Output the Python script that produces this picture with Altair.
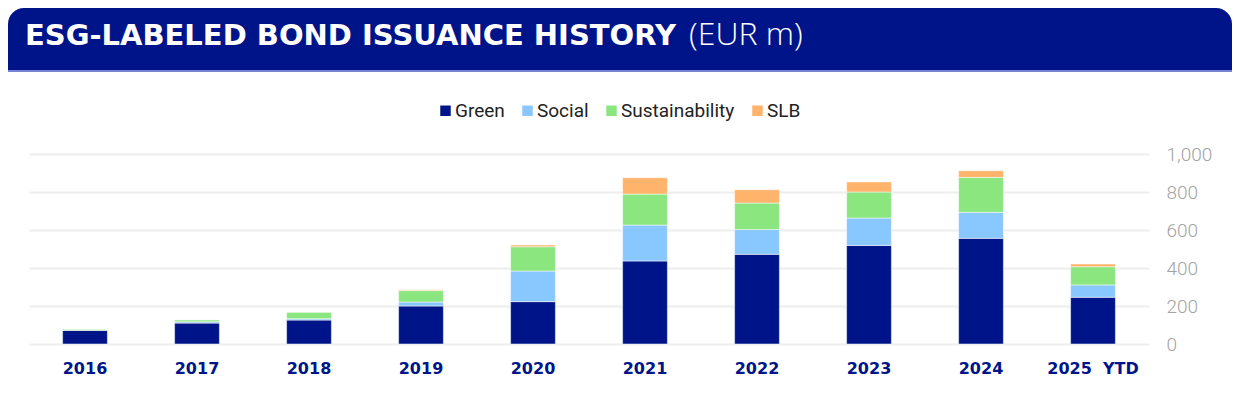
import altair as alt
import pandas as pd

years = ["2016", "2017", "2018", "2019", "2020", "2021", "2022", "2023", "2024", "2025\u00a0\u00a0YTD"]
series = ["Green", "Social", "Sustainability", "SLB"]
green = [72, 110, 126, 200, 223, 437, 472, 519, 556, 246]
social = [1, 7, 7, 21, 161, 189, 131, 144, 137, 65]
sustainability = [6, 11, 35, 60, 128, 163, 139, 137, 184, 96]
slb = [0, 0, 0, 5, 9, 86, 70, 53, 35, 14]
colors = ["#001489", "#89C7FF", "#8BE680", "#FFB36B"]
y_ticks = [0, 200, 400, 600, 800, 1000]
title_main = "ESG-LABELED BOND ISSUANCE HISTORY"
title_unit = "(EUR m)"

rows = []
for i, y in enumerate(years):
    for k, (s, vals) in enumerate(zip(series, [green, social, sustainability, slb])):
        rows.append({"year": y, "series": s, "value": vals[i], "order": k})
df = pd.DataFrame(rows)

W, H = 1120, 190
PL, PT = 21, 146

bars = alt.Chart(df).mark_bar(stroke="white", strokeWidth=0.5).encode(
    x=alt.X("year:N", sort=years,
            scale=alt.Scale(paddingInner=0.6, paddingOuter=0.3),
            axis=alt.Axis(title=None, labelAngle=0, domain=False, ticks=False,
                          labelFont="DejaVu Sans", labelFontWeight="bold",
                          labelFontSize=16, labelColor="#001489",
                          labelPadding=16)),
    y=alt.Y("value:Q", stack="zero",
            scale=alt.Scale(domain=[0, 1000]),
            axis=alt.Axis(title=None, orient="right", values=y_ticks, format=",d",
                          domain=False, ticks=False, grid=True,
                          gridColor="#EEEEEE", gridWidth=2,
                          labelFont="Roboto", labelFontWeight=300,
                          labelFontSize=19, labelColor="#A3A3A3",
                          labelPadding=17, labelAlign="left")),
    color=alt.Color("series:N", sort=series,
                    scale=alt.Scale(domain=series, range=colors),
                    legend=alt.Legend(title=None, orient="none", direction="horizontal",
                                      legendX=407, legendY=-53,
                                      symbolType="square", symbolSize=110,
                                      symbolStrokeWidth=0, labelOffset=0,
                                      columnPadding=13,
                                      labelFont="Roboto", labelFontSize=19,
                                      labelColor="#222222")),
    order=alt.Order("order:Q", sort="ascending"),
)

one = pd.DataFrame({"a": [0]})

banner = alt.Chart(one).mark_rect(
    color="#001489", cornerRadiusTopLeft=16, cornerRadiusTopRight=16, clip=False
).encode(
    x=alt.value(-PL), x2=alt.value(1224 - PL),
    y=alt.value(-PT), y2=alt.value(-PT + 62),
)

banner_line = alt.Chart(one).mark_rule(color="#4A5BC4", strokeWidth=1.5).encode(
    x=alt.value(-PL), x2=alt.value(1224 - PL), y=alt.value(-PT + 63),
)

t1 = alt.Chart(pd.DataFrame({"t": [title_main]})).mark_text(
    align="left", baseline="alphabetic", font="DejaVu Sans", fontSize=29,
    fontWeight="bold", color="white"
).encode(text="t:N", x=alt.value(25 - 29), y=alt.value(45 - 154))

t2 = alt.Chart(pd.DataFrame({"t": [title_unit]})).mark_text(
    align="left", baseline="alphabetic", font="Open Sans", fontSize=32,
    fontWeight=300, color="white"
).encode(text="t:N", x=alt.value(689 - 29), y=alt.value(45 - 154))

chart = alt.layer(banner, banner_line, bars, t1, t2).properties(
    width=W, height=H,
    autosize=alt.AutoSizeParams(type="none"),
    padding={"left": PL, "top": PT, "right": 1224 - PL - W, "bottom": 40},
    background="white",
).configure_view(stroke=None)

chart.save("out.html", embed_options={"renderer": "svg", "actions": False})
